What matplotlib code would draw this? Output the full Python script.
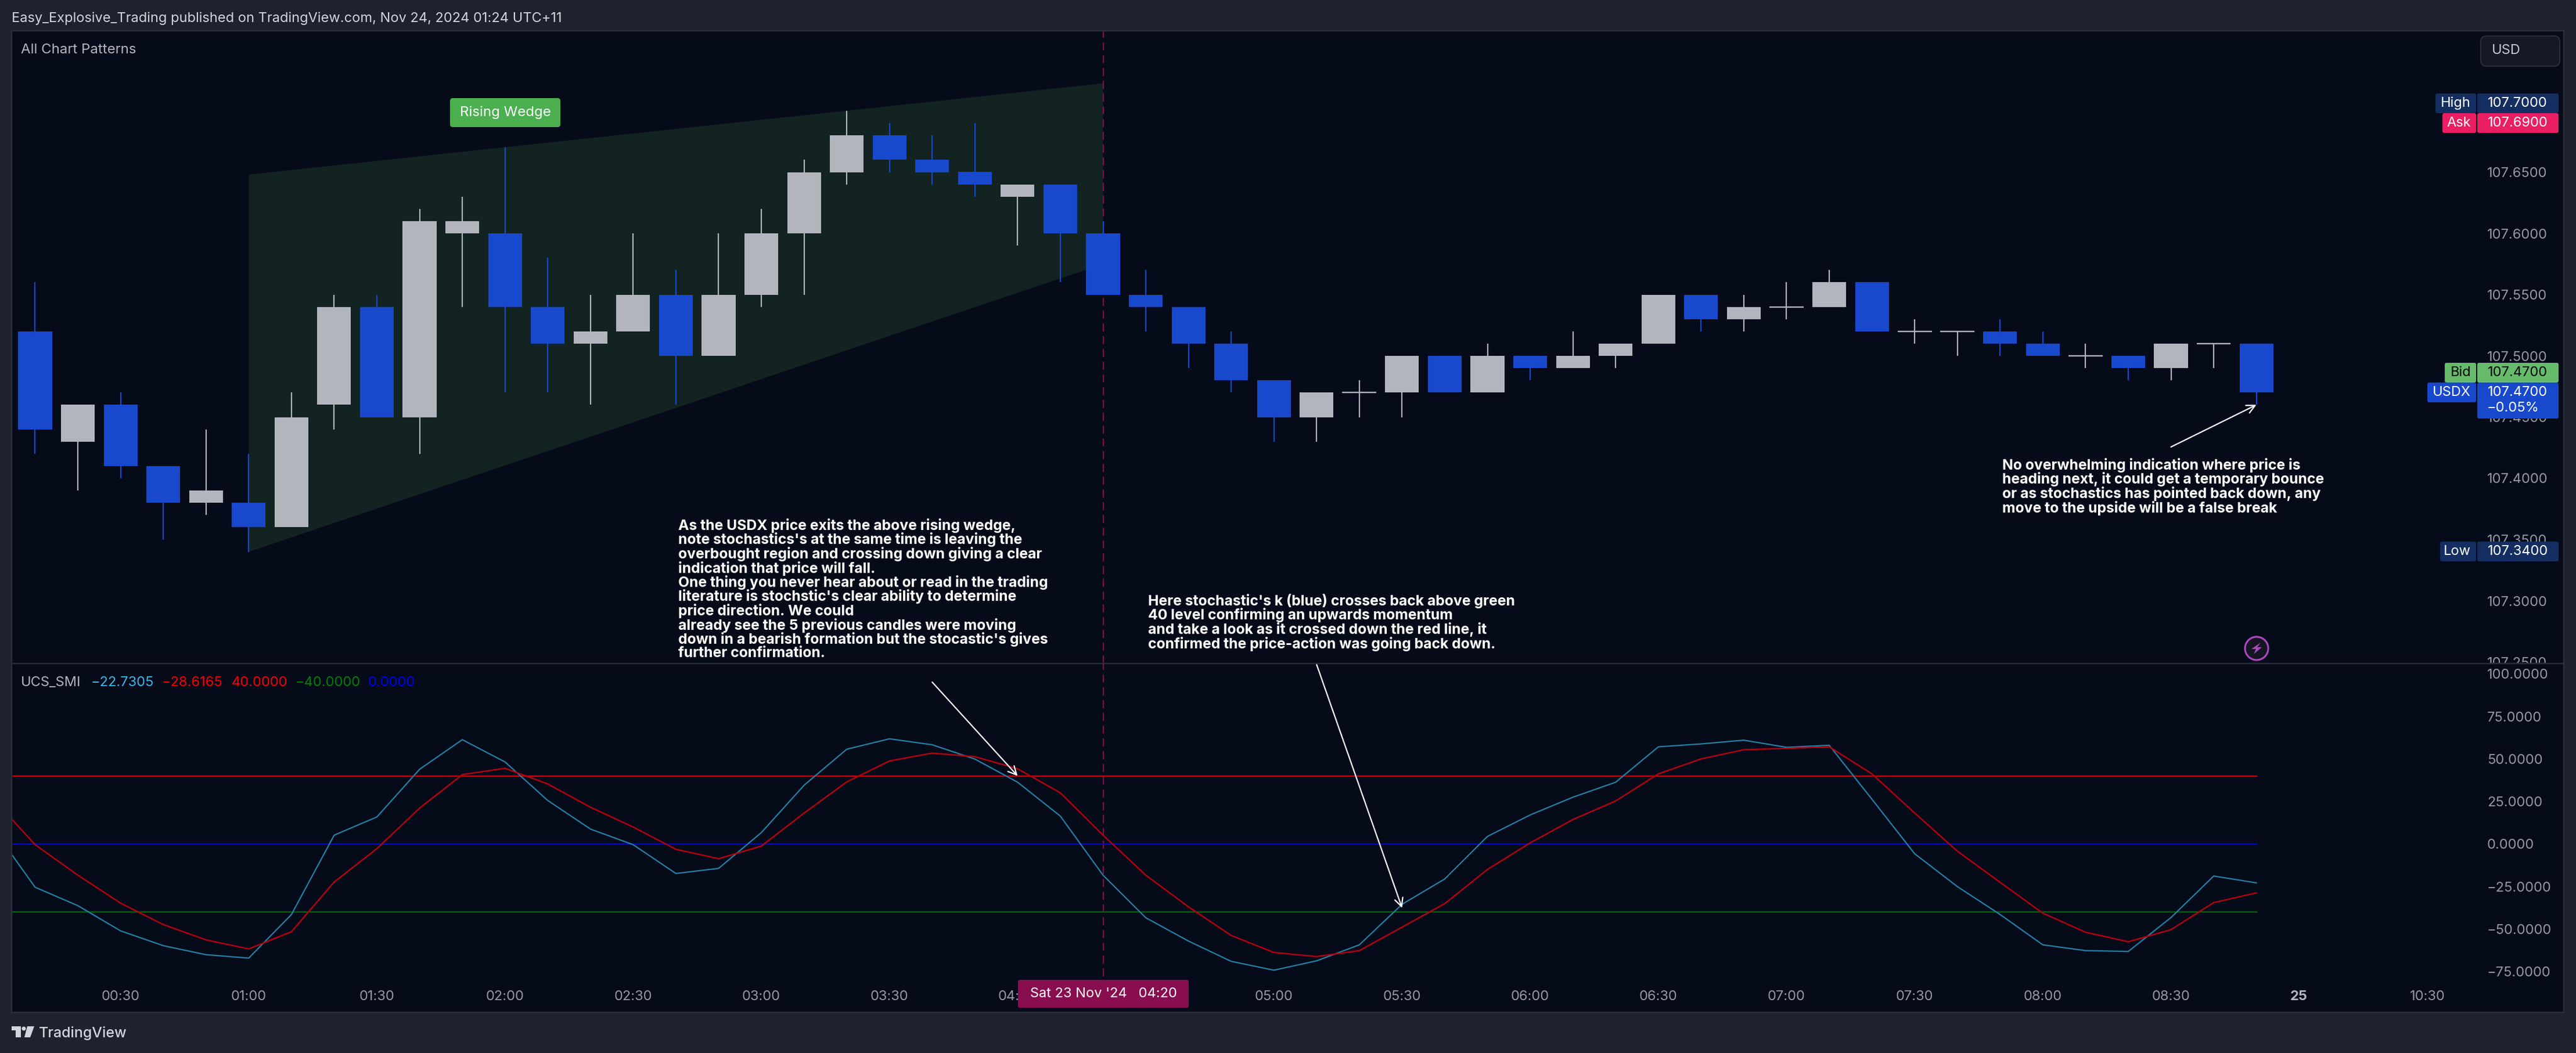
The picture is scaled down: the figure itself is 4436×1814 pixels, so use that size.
import matplotlib
matplotlib.use("Agg")
import matplotlib.pyplot as plt
from matplotlib.patches import FancyBboxPatch, Polygon, Circle

plt.rcParams['font.family'] = ['Inter', 'DejaVu Sans']

# 10 minute candles, index 0 is 00:10
opens = [107.52, 107.43, 107.46, 107.41, 107.38, 107.38, 107.36, 107.46, 107.54, 107.45,
         107.60, 107.60, 107.54, 107.51, 107.52, 107.55, 107.50, 107.55, 107.60, 107.65,
         107.68, 107.66, 107.65, 107.63, 107.64, 107.60, 107.55, 107.54, 107.51, 107.48,
         107.45, 107.47, 107.47, 107.50, 107.47, 107.50, 107.49, 107.50, 107.51, 107.55,
         107.53, 107.54, 107.54, 107.56, 107.52, 107.52, 107.52, 107.51, 107.50, 107.50,
         107.49, 107.51, 107.51]
highs = [107.56, 107.46, 107.47, 107.41, 107.44, 107.42, 107.47, 107.55, 107.55, 107.62,
         107.63, 107.67, 107.58, 107.55, 107.60, 107.57, 107.60, 107.62, 107.66, 107.70,
         107.69, 107.68, 107.69, 107.64, 107.64, 107.61, 107.57, 107.54, 107.52, 107.48,
         107.47, 107.48, 107.50, 107.50, 107.51, 107.50, 107.52, 107.51, 107.55, 107.55,
         107.55, 107.56, 107.57, 107.56, 107.53, 107.52, 107.53, 107.52, 107.51, 107.50,
         107.51, 107.51, 107.51]
lows = [107.42, 107.39, 107.40, 107.35, 107.37, 107.34, 107.36, 107.44, 107.45, 107.42,
        107.54, 107.47, 107.47, 107.46, 107.52, 107.46, 107.50, 107.54, 107.55, 107.64,
        107.65, 107.64, 107.63, 107.59, 107.56, 107.55, 107.52, 107.49, 107.47, 107.43,
        107.43, 107.45, 107.45, 107.47, 107.47, 107.48, 107.49, 107.49, 107.51, 107.52,
        107.52, 107.53, 107.54, 107.52, 107.51, 107.50, 107.50, 107.50, 107.49, 107.48,
        107.48, 107.49, 107.46]
closes = [107.44, 107.46, 107.41, 107.38, 107.39, 107.36, 107.45, 107.54, 107.45, 107.61,
          107.61, 107.54, 107.51, 107.52, 107.55, 107.50, 107.55, 107.60, 107.65, 107.68,
          107.66, 107.65, 107.64, 107.64, 107.60, 107.55, 107.54, 107.51, 107.48, 107.45,
          107.47, 107.47, 107.50, 107.47, 107.50, 107.49, 107.50, 107.51, 107.55, 107.53,
          107.54, 107.54, 107.56, 107.52, 107.52, 107.52, 107.51, 107.50, 107.50, 107.49,
          107.51, 107.51, 107.47]

# stochastic lines, index -1 to 52
smi_x = list(range(-1, 53))
smi_k = [9.7, -25.4, -36.2, -51.0, -59.7, -65.0, -67.0, -41.4, 5.2, 15.9, 43.9, 61.3, 48.2, 25.6,
         8.8, -0.4, -17.3, -14.3, 6.7, 34.5, 55.7, 61.8, 58.3, 49.9, 36.3, 16.4, -18.3, -43.3,
         -57.0, -68.9, -74.1, -68.6, -59.2, -35.4, -20.5, 4.5, 17.1, 27.5, 36.3, 57.1, 58.8,
         61.0, 56.8, 58.0, 26.3, -5.7, -25.0, -41.4, -59.2, -62.6, -63.1, -43.2, -18.8, -22.8]
smi_d = [27.0, -0.4, -18.3, -34.7, -47.3, -56.3, -61.6, -51.5, -22.3, -2.7, 21.1, 40.8, 44.5, 35.3,
         21.6, 10.0, -3.1, -8.6, -1.2, 18.2, 36.5, 48.8, 53.4, 51.3, 44.2, 30.1, 5.2, -18.3,
         -36.9, -53.7, -63.7, -66.1, -62.6, -48.8, -35.0, -14.9, 0.7, 14.4, 25.3, 41.2, 50.0,
         55.4, 56.2, 57.1, 41.2, 18.2, -4.2, -22.5, -40.6, -51.8, -57.4, -50.3, -34.4, -28.7]
levels = [40, -40, 0]

price_ticks = [107.25, 107.30, 107.35, 107.40, 107.45, 107.50, 107.55, 107.60, 107.65, 107.70]
smi_ticks = [-75, -50, -25, 0, 25, 50, 75, 100]
# 04:30 sits fully under the crosshair label, so it gets no text
time_ticks = list(range(2, 57, 3))
time_labels = ['00:30', '01:00', '01:30', '02:00', '02:30', '03:00', '03:30', '04:00', '',
               '05:00', '05:30', '06:00', '06:30', '07:00', '07:30', '08:00', '08:30', '25', '10:30']

# wedge corners: bar index and price
wedge_x = [5, 25, 25, 5]
wedge_y = [107.648, 107.7225, 107.575, 107.34]

text_1 = ["As the USDX price exits the above rising wedge,",
          "note stochastics's at the same time is leaving the",
          "overbought region and crossing down giving a clear",
          "indication that price will fall.",
          "One thing you never hear about or read in the trading",
          "literature is stochstic's clear ability to determine",
          "price direction. We could",
          "already see the 5 previous candles were moving",
          "down in a bearish formation but the stocastic's gives",
          "further confirmation."]
text_2 = ["Here stochastic's k (blue) crosses back above green",
          "40 level confirming an upwards momentum",
          "and take a look as it crossed down the red line, it",
          "confirmed the price-action was going back down."]
text_3 = ["No overwhelming indication where price is",
          "heading next, it could get a temporary bounce",
          "or as stochastics has pointed back down, any",
          "move to the upside will be a false break"]

BG = '#060b1a'
FRAME = '#1e222d'
BORDER = '#2a2e39'
UP = '#b2b5be'
DOWN = '#1848cc'
W, H = 4436, 1814
px = 0.72  # points per pixel at dpi 100

fig = plt.figure(figsize=(W / 100, H / 100), dpi=100, facecolor=FRAME)


def pane(top, bottom, z):
    a = fig.add_axes([20 / W, 1 - bottom / H, (4415 - 20) / W, (bottom - top) / H], zorder=z)
    a.set_facecolor(BG)
    for s in a.spines.values():
        s.set_visible(False)
    a.set_xlim((20 - 60.5) / 73.56, (4415 - 60.5) / 73.56)
    a.yaxis.tick_right()
    a.tick_params(axis='y', length=0, pad=-132 * px, labelsize=17, labelcolor='#9598a1')
    return a


ax = pane(53, 1143, 1)
ax2 = pane(1143, 1744, 2)
ax.set_ylim(107.5 - 530 / 2110, 107.5 + 560 / 2110)
ax2.set_ylim(-290 / 2.933, 311 / 2.933)

# price pane
ax.add_patch(Polygon(list(zip(wedge_x, wedge_y)), closed=True, fc='#122321', ec='none', zorder=1))
ax.axvline(25, color='#7c1249', lw=2 * px, dashes=(7, 4), zorder=1.5)
ax2.axvline(25, ymin=(1744 - 1682) / 601, color='#7c1249', lw=2 * px, dashes=(7, 4), zorder=1.5)
for i in range(len(opens)):
    col = DOWN if closes[i] < opens[i] else UP
    ax.vlines(i, lows[i], highs[i], color=col, lw=2.2 * px, zorder=2)
    if opens[i] == closes[i]:
        ax.hlines(opens[i], i - 0.4, i + 0.4, color=col, lw=2.4 * px, zorder=2)
    else:
        ax.bar(i, abs(closes[i] - opens[i]), bottom=min(opens[i], closes[i]), width=0.79,
               color=col, zorder=3)
ax.set_xticks([])
ax.set_yticks(price_ticks)
ax.set_yticklabels(['%.4f' % p for p in price_ticks], ha='left')

ax.annotate('', xy=(52, 107.46), xytext=(50, 107.4256), zorder=5,
            arrowprops=dict(arrowstyle='->', color='white', lw=2.2 * px, mutation_scale=26,
                            shrinkA=0, shrinkB=0))

# stochastic pane
for lv, col in zip(levels, ['#c0000f', '#0a5c12', '#0808b4']):
    ax2.plot([smi_x[0], smi_x[-1]], [lv, lv], color=col, lw=2.4 * px, zorder=2)
ax2.plot(smi_x, smi_k, color='#2382a6', lw=2.2 * px, zorder=3)
ax2.plot(smi_x, smi_d, color='#b8000f', lw=2.4 * px, zorder=3)
ax2.set_yticks(smi_ticks)
ax2.set_yticklabels([('%.4f' % v).replace('-', '\u2212') for v in smi_ticks], ha='left')
ax2.set_xticks(time_ticks)
ax2.set_xticklabels(time_labels)
ax2.tick_params(axis='x', length=0, pad=-38 * px, labelsize=17, labelcolor='#9598a1')
for lab in ax2.get_xticklabels():
    if lab.get_text() == '25':
        lab.set_fontweight('bold')
        lab.set_color('#b2b5be')

for start, end in [((21, 95.1), (23, 40)), ((30, 105.4), (32, -37.5))]:
    ax2.annotate('', xy=end, xytext=start, zorder=5,
                 arrowprops=dict(arrowstyle='->', color='white', lw=2.2 * px, mutation_scale=26,
                                 shrinkA=0, shrinkB=0))

# everything around the panes, in pixels
ov = fig.add_axes([0, 0, 1, 1], zorder=10)
ov.set_xlim(0, W)
ov.set_ylim(H, 0)
ov.axis('off')

for x0, y0, x1, y1 in [(20, 53, 4415, 53), (20, 1143, 4415, 1143), (20, 1744, 4415, 1744),
                       (20, 53, 20, 1744), (4415, 53, 4415, 1744)]:
    ov.plot([x0, x1], [y0, y1], color=BORDER, lw=2.5 * px)

ov.text(20, 32, 'Easy_Explosive_Trading published on TradingView.com, Nov 24, 2024 01:24 UTC+11',
        color='#d1d4dc', fontsize=17, va='center')
ov.text(36, 86, 'All Chart Patterns', color='#b2b5be', fontsize=17.3, va='center')
ov.text(67, 1780, 'TradingView', color='#d1d4dc', fontsize=18, va='center', weight='medium')

# logo
ov.add_patch(Polygon([(20, 1768), (36, 1768), (36, 1787), (27, 1787), (27, 1775), (20, 1775)],
                     fc='#d1d4dc', ec='none'))
ov.add_patch(Circle((41, 1772), 3.5, fc='#d1d4dc', ec='none'))
ov.add_patch(Polygon([(47, 1768), (59, 1768), (52, 1787), (42, 1787)], fc='#d1d4dc', ec='none'))

# flash icon
ov.add_patch(Circle((3886, 1117), 20, fc='#131722', ec='#ab47bc', lw=3.2 * px))
ov.add_patch(Polygon([(3893, 1107), (3877, 1118), (3885, 1118), (3881, 1127), (3895, 1115), (3887, 1115)],
                     fc='#ab47bc', ec='none'))

# legend of the stochastic pane
for x, s, col in [(36, 'UCS_SMI', '#b2b5be'), (157, '\u221222.7305', '#3fb4ea'),
                  (279, '\u221228.6165', '#ff0000'), (399, '40.0000', '#ff0000'),
                  (509, '\u221240.0000', '#008000'), (634, '0.0000', '#0000ff')]:
    ov.text(x, 1176, s, color=col, fontsize=17, va='center')

for lines, x, y in [(text_1, 1168, 893), (text_2, 1977, 1023), (text_3, 3448, 789)]:
    ov.text(x, y, '\n'.join(lines), color='white', fontsize=17.8, weight='bold', va='top', ha='left',
            linespacing=0.975)


def box(x0, y0, x1, y1, col, r=4, ec='none', z=6):
    ov.add_patch(FancyBboxPatch((x0 + r, y0 + r), x1 - x0 - 2 * r, y1 - y0 - 2 * r,
                                boxstyle='round,pad=%d,rounding_size=%d' % (r, r),
                                fc=col, ec=ec, lw=1.5, zorder=z))


box(775, 169, 965, 219, '#4caf50', r=5)
ov.text(870, 194, 'Rising Wedge', color='white', fontsize=17.3, ha='center', va='center', zorder=7)

box(4272, 62, 4408, 114, '#151924', r=10, ec=BORDER)
ov.text(4291, 87, 'USD', color='#c4c7d2', fontsize=17, va='center', zorder=7)

# price scale badges
for name, val, lx, y0, y1, col, tc in [('High', '107.7000', 4194, 161, 195, '#142e61', 'white'),
                                       ('Ask', '107.6900', 4206, 195, 229, '#e91e63', 'white'),
                                       ('Bid', '107.4700', 4210, 625, 659, '#66bb6a', 'black'),
                                       ('USDX', '107.4700', 4180, 659, 693, DOWN, 'white'),
                                       ('Low', '107.3400', 4202, 933, 967, '#142e61', 'white')]:
    bot = 721 if name == 'USDX' else y1
    box(lx, y0, 4264, y1, col, r=3)
    box(4266, y0, 4406, bot, col, r=3)
    ov.text(4255, (y0 + y1) / 2, name, color=tc, fontsize=17, ha='right', va='center', zorder=7)
    ov.text(4284, (y0 + y1) / 2, val, color=tc, fontsize=17, va='center', zorder=7)
ov.text(4283, 703, '\u22120.05%', color='white', fontsize=17, va='center', zorder=7)

# crosshair time label
box(1753, 1688, 2047, 1736, '#880e4f', r=3)
ov.text(1900, 1712, "Sat 23 Nov '24   04:20", color='white', fontsize=17, ha='center', va='center', zorder=7)

fig.savefig('out.png', dpi=100, facecolor=FRAME)
